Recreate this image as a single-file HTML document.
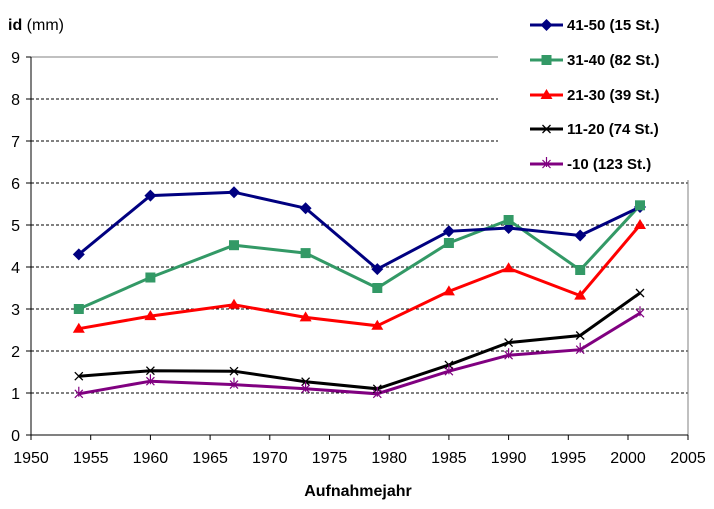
<!DOCTYPE html>
<html><head><style>body{margin:0;background:#fff}svg{display:block}text{font-family:"Liberation Sans",Arial,sans-serif}</style></head>
<body>
<svg width="714" height="509" viewBox="0 0 714 509" xmlns="http://www.w3.org/2000/svg">
<g stroke="#000" stroke-width="1" stroke-dasharray="3,2">
<line x1="31" y1="393" x2="688" y2="393"/><line x1="31" y1="351" x2="688" y2="351"/><line x1="31" y1="309" x2="688" y2="309"/><line x1="31" y1="267" x2="688" y2="267"/><line x1="31" y1="225" x2="688" y2="225"/><line x1="31" y1="183" x2="688" y2="183"/><line x1="31" y1="141" x2="688" y2="141"/><line x1="31" y1="99" x2="688" y2="99"/>
</g>
<line x1="31" y1="57" x2="688" y2="57" stroke="#808080"/>
<line x1="688" y1="57" x2="688" y2="435" stroke="#808080"/>
<line x1="31" y1="57" x2="31" y2="440" stroke="#000"/>
<line x1="26" y1="435" x2="688" y2="435" stroke="#000"/>
<g stroke="#000">
<line x1="26" y1="393" x2="31" y2="393"/><line x1="26" y1="351" x2="31" y2="351"/><line x1="26" y1="309" x2="31" y2="309"/><line x1="26" y1="267" x2="31" y2="267"/><line x1="26" y1="225" x2="31" y2="225"/><line x1="26" y1="183" x2="31" y2="183"/><line x1="26" y1="141" x2="31" y2="141"/><line x1="26" y1="99" x2="31" y2="99"/><line x1="26" y1="57" x2="31" y2="57"/>
<line x1="90.7" y1="435" x2="90.7" y2="440"/><line x1="150.4" y1="435" x2="150.4" y2="440"/><line x1="210.1" y1="435" x2="210.1" y2="440"/><line x1="269.8" y1="435" x2="269.8" y2="440"/><line x1="329.5" y1="435" x2="329.5" y2="440"/><line x1="389.2" y1="435" x2="389.2" y2="440"/><line x1="448.9" y1="435" x2="448.9" y2="440"/><line x1="508.6" y1="435" x2="508.6" y2="440"/><line x1="568.3" y1="435" x2="568.3" y2="440"/><line x1="628" y1="435" x2="628" y2="440"/><line x1="688" y1="435" x2="688" y2="440"/>
</g>
<g font-size="16" text-anchor="end">
<text x="20" y="441">0</text><text x="20" y="399">1</text><text x="20" y="357">2</text><text x="20" y="315">3</text><text x="20" y="273">4</text><text x="20" y="231">5</text><text x="20" y="189">6</text><text x="20" y="147">7</text><text x="20" y="105">8</text><text x="20" y="63">9</text>
</g>
<g font-size="16" text-anchor="middle">
<text x="31" y="463">1950</text><text x="90.7" y="463">1955</text><text x="150.4" y="463">1960</text><text x="210.1" y="463">1965</text><text x="269.8" y="463">1970</text><text x="329.5" y="463">1975</text><text x="389.2" y="463">1980</text><text x="448.9" y="463">1985</text><text x="508.6" y="463">1990</text><text x="568.3" y="463">1995</text><text x="628" y="463">2000</text><text x="688" y="463">2005</text>
</g>
<text x="358" y="496" font-size="16" font-weight="bold" text-anchor="middle">Aufnahmejahr</text>
<text x="8" y="30" font-size="16"><tspan font-weight="bold">id</tspan> (mm)</text>
<rect x="498" y="0" width="216" height="180" fill="#fff"/>
<!-- series -->
<polyline fill="none" stroke="#800080" stroke-width="3" points="78.8,393.8 150.4,381.2 234,384.6 305.6,388.8 377.3,393.8 448.9,371.2 508.6,355.2 580.2,349.7 640,313.2"/>
<polyline fill="none" stroke="#000" stroke-width="3" points="78.8,376.2 150.4,370.7 234,371.2 305.6,381.7 377.3,388.8 448.9,364.9 508.6,342.6 580.2,335.5 640,293"/>
<polyline fill="none" stroke="#ff0000" stroke-width="3" points="78.8,328.7 150.4,316.1 234,304.8 305.6,317.4 377.3,325.8 448.9,291.4 508.6,268.3 580.2,295.6 640,225"/>
<polyline fill="none" stroke="#339966" stroke-width="3" points="78.8,309 150.4,277.5 234,245.2 305.6,253.1 377.3,288 448.9,243 508.6,220 580.2,270 640,205.3"/>
<polyline fill="none" stroke="#000080" stroke-width="3" points="78.8,254.4 150.4,195.6 234,192.2 305.6,208.2 377.3,269.1 448.9,231.3 508.6,228 580.2,235.5 640,207"/>
<g fill="#000080">
<path d="M78.8,248.4l6,6-6,6-6-6z"/><path d="M150.4,189.6l6,6-6,6-6-6z"/><path d="M234,186.2l6,6-6,6-6-6z"/><path d="M305.6,202.2l6,6-6,6-6-6z"/><path d="M377.3,263.1l6,6-6,6-6-6z"/><path d="M448.9,225.3l6,6-6,6-6-6z"/><path d="M508.6,222l6,6-6,6-6-6z"/><path d="M580.2,229.5l6,6-6,6-6-6z"/><path d="M640,201l6,6-6,6-6-6z"/>
</g>
<g fill="#339966">
<rect x="73.8" y="304" width="10" height="10"/><rect x="145.4" y="272.5" width="10" height="10"/><rect x="229" y="240.2" width="10" height="10"/><rect x="300.6" y="248.1" width="10" height="10"/><rect x="372.3" y="283" width="10" height="10"/><rect x="443.9" y="238" width="10" height="10"/><rect x="503.6" y="215" width="10" height="10"/><rect x="575.2" y="265" width="10" height="10"/><rect x="635" y="200.3" width="10" height="10"/>
</g>
<g fill="#ff0000">
<path d="M78.8,322.7l6,10h-12z"/><path d="M150.4,310.1l6,10h-12z"/><path d="M234,298.8l6,10h-12z"/><path d="M305.6,311.4l6,10h-12z"/><path d="M377.3,319.8l6,10h-12z"/><path d="M448.9,285.4l6,10h-12z"/><path d="M508.6,262.3l6,10h-12z"/><path d="M580.2,289.6l6,10h-12z"/><path d="M640,219l6,10h-12z"/>
</g>
<g stroke="#000" stroke-width="1.3">
<path d="M74.8,372.2l8,8m0-8l-8,8M146.4,366.7l8,8m0-8l-8,8M230,367.2l8,8m0-8l-8,8M301.6,377.7l8,8m0-8l-8,8M373.3,384.8l8,8m0-8l-8,8M444.9,360.9l8,8m0-8l-8,8M504.6,338.6l8,8m0-8l-8,8M576.2,331.5l8,8m0-8l-8,8M636,289l8,8m0-8l-8,8"/>
</g>
<g stroke="#800080" stroke-width="1.2">
<path d="M74.8,389.8l8,8m0-8l-8,8m4-1v-10M146.4,377.2l8,8m0-8l-8,8m4-1v-10M230,380.6l8,8m0-8l-8,8m4-1v-10M301.6,384.8l8,8m0-8l-8,8m4-1v-10M373.3,389.8l8,8m0-8l-8,8m4-1v-10M444.9,367.2l8,8m0-8l-8,8m4-1v-10M504.6,351.2l8,8m0-8l-8,8m4-1v-10M576.2,345.7l8,8m0-8l-8,8m4-1v-10M636,309.2l8,8m0-8l-8,8m4-1v-10"/>
</g>
<!-- legend -->
<g font-size="15" font-weight="bold">
<line x1="530" y1="25" x2="563" y2="25" stroke="#000080" stroke-width="3"/><path d="M546.5,19l6,6-6,6-6-6z" fill="#000080"/><text x="567" y="30">41-50 (15 St.)</text>
<line x1="530" y1="60" x2="563" y2="60" stroke="#339966" stroke-width="3"/><rect x="541.5" y="55" width="10" height="10" fill="#339966"/><text x="567" y="65">31-40 (82 St.)</text>
<line x1="530" y1="95" x2="563" y2="95" stroke="#ff0000" stroke-width="3"/><path d="M546.5,89l6,10h-12z" fill="#ff0000"/><text x="567" y="100">21-30 (39 St.)</text>
<line x1="530" y1="129" x2="563" y2="129" stroke="#000" stroke-width="3"/><path d="M542.5,125l8,8m0-8l-8,8" stroke="#000" stroke-width="1.3"/><text x="567" y="134">11-20 (74 St.)</text>
<line x1="530" y1="164" x2="563" y2="164" stroke="#800080" stroke-width="3"/><path d="M542.5,160l8,8m0-8l-8,8m4-1v-10" stroke="#800080" stroke-width="1.2"/><text x="567" y="169">-10 (123 St.)</text>
</g>
</svg>
</body></html>
